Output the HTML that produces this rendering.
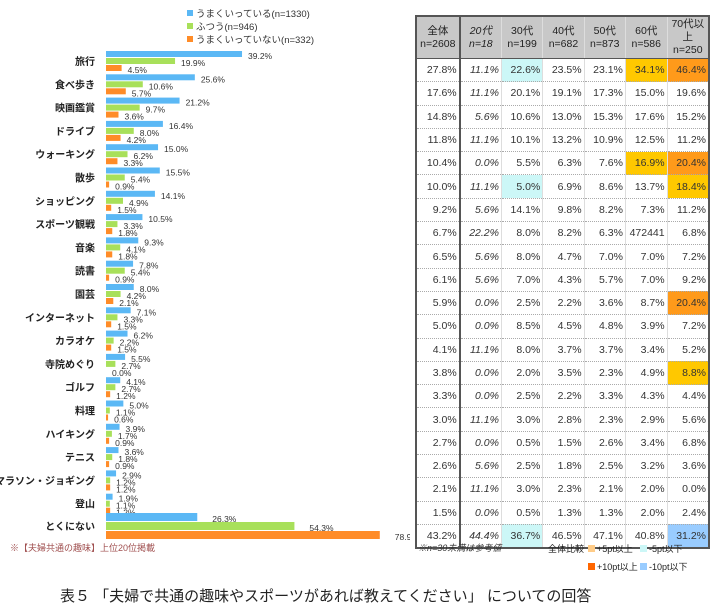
<!DOCTYPE html>
<html><head><meta charset="utf-8">
<style>
body{margin:0;width:710px;height:615px;background:#fff;position:relative;overflow:hidden;font-family:"Liberation Sans","Noto Sans CJK JP",sans-serif;color:#222}
.abs{position:absolute;white-space:nowrap}
#tbl{position:absolute;left:415px;top:15px;border-collapse:collapse;border:2px solid #555;font-size:10.5px}
#tbl td{height:22.3px;padding:0 2px 0 0;text-align:right;border-left:1px solid #ddd;border-top:1px dotted #aaa;color:#333}
#tbl th{height:31px;background:#c8c8c8;font-weight:normal;font-size:10.5px;line-height:13px;border-left:1px solid #ddd;border-bottom:1px solid #555;color:#222}
#tbl .c0{border-right:2px solid #555}
#tbl .it{font-style:italic}
</style></head><body>
<svg id="chart" width="410" height="560" style="position:absolute;left:0;top:0" font-family="Liberation Sans, Noto Sans CJK JP, sans-serif"></svg>
<table id="tbl"></table>
<div class="abs" style="left:10px;top:541px;font-size:9px;color:#a05050">※【夫婦共通の趣味】上位20位掲載</div>
<div class="abs" style="left:418px;top:541px;font-size:9px;font-style:italic;color:#333">※n=30未満は参考値</div>
<div class="abs" style="left:548px;top:542px;font-size:9px">全体比較</div>
<div class="abs" style="left:588px;top:542px;font-size:9px"><span style="display:inline-block;width:7px;height:7px;background:#ffcc88;margin-right:2px"></span>+5pt以上</div>
<div class="abs" style="left:640px;top:542px;font-size:9px"><span style="display:inline-block;width:7px;height:7px;background:#ccf7f7;margin-right:2px"></span>-5pt以下</div>
<div class="abs" style="left:588px;top:560px;font-size:9px"><span style="display:inline-block;width:7px;height:7px;background:#ff6600;margin-right:2px"></span>+10pt以上</div>
<div class="abs" style="left:640px;top:560px;font-size:9px"><span style="display:inline-block;width:7px;height:7px;background:#99ccff;margin-right:2px"></span>-10pt以下</div>
<div class="abs" style="left:60px;top:585px;font-size:15px;color:#222">表５ 「夫婦で共通の趣味やスポーツがあれば教えてください」 についての回答</div>
<script>
const categories=["旅行","食べ歩き","映画鑑賞","ドライブ","ウォーキング","散歩","ショッピング","スポーツ観戦","音楽","読書","園芸","インターネット","カラオケ","寺院めぐり","ゴルフ","料理","ハイキング","テニス","マラソン・ジョギング","登山","とくにない"];
const seriesGood=[39.2,25.6,21.2,16.4,15.0,15.5,14.1,10.5,9.3,7.8,8.0,7.1,6.2,5.5,4.1,5.0,3.9,3.6,2.9,1.9,26.3];
const seriesNormal=[19.9,10.6,9.7,8.0,6.2,5.4,4.9,3.3,4.1,5.4,4.2,3.3,2.2,2.7,2.7,1.1,1.7,1.8,1.2,1.1,54.3];
const seriesBad=[4.5,5.7,3.6,4.2,3.3,0.9,1.5,1.8,1.8,0.9,2.1,1.5,1.5,0.0,1.2,0.6,0.9,0.9,1.2,1.2,78.9];
const seriesNames=["うまくいっている(n=1330)","ふつう(n=946)","うまくいっていない(n=332)"];
const colors=["#5bb8f5","#a8e05a","#ff8c28"];
const headers=[["全体","n=2608"],["20代","n=18"],["30代","n=199"],["40代","n=682"],["50代","n=873"],["60代","n=586"],["70代以上","n=250"]];
const tableRows=[
["27.8%","11.1%","22.6%","23.5%","23.1%","34.1%","46.4%"],
["17.6%","11.1%","20.1%","19.1%","17.3%","15.0%","19.6%"],
["14.8%","5.6%","10.6%","13.0%","15.3%","17.6%","15.2%"],
["11.8%","11.1%","10.1%","13.2%","10.9%","12.5%","11.2%"],
["10.4%","0.0%","5.5%","6.3%","7.6%","16.9%","20.4%"],
["10.0%","11.1%","5.0%","6.9%","8.6%","13.7%","18.4%"],
["9.2%","5.6%","14.1%","9.8%","8.2%","7.3%","11.2%"],
["6.7%","22.2%","8.0%","8.2%","6.3%","472441","6.8%"],
["6.5%","5.6%","8.0%","4.7%","7.0%","7.0%","7.2%"],
["6.1%","5.6%","7.0%","4.3%","5.7%","7.0%","9.2%"],
["5.9%","0.0%","2.5%","2.2%","3.6%","8.7%","20.4%"],
["5.0%","0.0%","8.5%","4.5%","4.8%","3.9%","7.2%"],
["4.1%","11.1%","8.0%","3.7%","3.7%","3.4%","5.2%"],
["3.8%","0.0%","2.0%","3.5%","2.3%","4.9%","8.8%"],
["3.3%","0.0%","2.5%","2.2%","3.3%","4.3%","4.4%"],
["3.0%","11.1%","3.0%","2.8%","2.3%","2.9%","5.6%"],
["2.7%","0.0%","0.5%","1.5%","2.6%","3.4%","6.8%"],
["2.6%","5.6%","2.5%","1.8%","2.5%","3.2%","3.6%"],
["2.1%","11.1%","3.0%","2.3%","2.1%","2.0%","0.0%"],
["1.5%","0.0%","0.5%","1.3%","1.3%","2.0%","2.4%"],
["43.2%","44.4%","36.7%","46.5%","47.1%","40.8%","31.2%"]];
const highlights={"0-2":"#ccf7f7","0-5":"#ffc800","0-6":"#ff9a1a","4-5":"#ffc800","4-6":"#ff9a1a","5-2":"#ccf7f7","5-6":"#ffc800","10-6":"#ff9a1a","13-6":"#ffc800","20-2":"#ccf7f7","20-6":"#99ccff"};
const NS="http://www.w3.org/2000/svg";
const svg=document.getElementById('chart');
const x0=106,scale=3.47;
const xs=v=>x0+v*scale;
function groupTop(i){return i<20?51+i*23.3:513;}
function mk(tag,attrs){const e=document.createElementNS(NS,tag);for(const k in attrs)e.setAttribute(k,attrs[k]);svg.appendChild(e);return e;}
// legend
seriesNames.forEach((n,k)=>{
 const r=mk('rect',{x:187,y:10+k*13,width:6,height:6,fill:colors[k]});
 
 const t=mk('text',{x:196,y:17+k*13,'font-size':9.5,fill:'#333'});t.textContent=n;
 
});
const all=[seriesGood,seriesNormal,seriesBad];
categories.forEach((c,i)=>{
 const big=i===20;const h=big?8:6;const gap=big?9:7;const top=groupTop(i);
 const lbl=mk('text',{x:95,y:top+gap+h/2+4,'font-size':10,'text-anchor':'end',fill:'#222','font-weight':'bold'});
 lbl.textContent=c;
 
 all.forEach((s,k)=>{
  const y=top+k*gap;
  const r=mk('rect',{x:x0,y:y,width:Math.max(0,xs(s[i])-x0),height:h,fill:colors[k]});
  
  const t=mk('text',{x:xs(s[i])+(big?15:6),y:y+h+(big?1:2),'font-size':8.5,fill:'#333'});
  t.textContent=s[i].toFixed(1)+'%';
  
 });
});
// table
const tbl=document.getElementById('tbl');
let html='<tr>';
headers.forEach((h,j)=>{html+='<th class="'+(j==0?'c0':'')+(j==1?' it':'')+'" style="width:'+(j==0?40:39)+'px">'+h[0]+'<br>'+h[1]+'</th>';});
html+='</tr>';
tableRows.forEach((r,i)=>{
 html+='<tr>';
 r.forEach((v,j)=>{const bg=highlights[i+'-'+j];
  html+='<td class="'+(j==0?'c0':'')+(j==1?' it':'')+'"'+(bg?' style="background:'+bg+'"':'')+'>'+v+'</td>';});
 html+='</tr>';
});
tbl.innerHTML=html;
</script>
</body></html>
